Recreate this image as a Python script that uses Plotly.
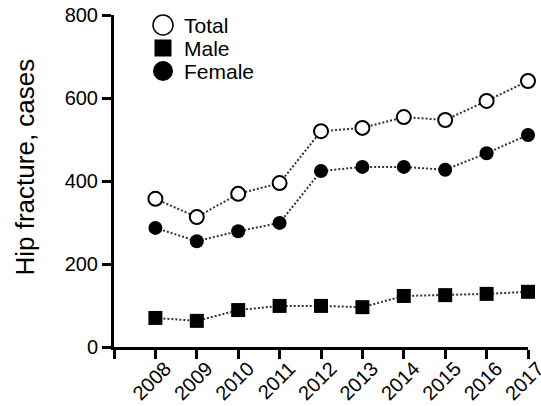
import plotly.graph_objects as go

years = [2008, 2009, 2010, 2011, 2012, 2013, 2014, 2015, 2016, 2017]
total = [357, 313, 369, 395, 520, 528, 554, 547, 593, 641]
male = [70, 63, 89, 99, 99, 96, 123, 125, 128, 133]
female = [287, 255, 279, 299, 424, 434, 434, 427, 467, 511]

series_names = ["Total", "Male", "Female"]
y_title = "Hip fracture, cases"

x_tickvals = [2007] + years
x_ticktext = [""] + [str(y) for y in years]
y_tickvals = [0, 200, 400, 600, 800]

FONT = "Arial, Liberation Sans, Helvetica, sans-serif"
line_style = dict(color="#333333", width=2, dash="2px,2px")

W, H = 541, 406
PL, PT = 114, 15
PW, PH = 414, 332

fig = go.Figure()
fig.add_trace(go.Scatter(
    x=years, y=total, name=series_names[0], mode="lines+markers",
    line=line_style,
    marker=dict(symbol="circle", size=14, color="white",
                line=dict(color="black", width=2)),
    cliponaxis=False,
))
fig.add_trace(go.Scatter(
    x=years, y=male, name=series_names[1], mode="lines+markers",
    line=line_style,
    marker=dict(symbol="square", size=14, color="black",
                line=dict(color="black", width=0)),
    cliponaxis=False,
))
fig.add_trace(go.Scatter(
    x=years, y=female, name=series_names[2], mode="lines+markers",
    line=line_style,
    marker=dict(symbol="circle", size=14, color="black",
                line=dict(color="black", width=0)),
    cliponaxis=False,
))

# manual legend (swatches as layout shapes, labels as annotations)
leg_x = (163 - PL) / PW
leg_tx = (182 - PL) / PW
leg_rows = [(347 - 25) / PH, (347 - 48) / PH, (347 - 71) / PH]
shapes = []
annotations = []
swatches = [("circle", "white", 10), ("rect", "black", 8.5), ("circle", "black", 10)]
for (kind, fill, r), yy, name in zip(swatches, leg_rows, series_names):
    shapes.append(dict(
        type=kind, xref="paper", yref="paper",
        xsizemode="pixel", ysizemode="pixel",
        xanchor=leg_x, yanchor=yy,
        x0=-r, x1=r, y0=-r, y1=r,
        fillcolor=fill, line=dict(color="black", width=1.5 if fill == "white" else 0),
    ))
    annotations.append(dict(
        xref="paper", yref="paper", x=leg_tx, y=yy,
        xanchor="left", yanchor="middle", text=name, showarrow=False,
        font=dict(size=21, family=FONT, color="black"),
    ))

# y-axis title as rotated annotation (sits slightly above the axis centre in the reference)
annotations.append(dict(
    xref="paper", yref="paper", x=(24 - PL) / PW, y=(347 - 167.5) / PH,
    xanchor="center", yanchor="middle", text=y_title, textangle=-90,
    showarrow=False, font=dict(size=26, family=FONT, color="black"),
))

fig.update_layout(
    width=W, height=H,
    margin=dict(l=PL, r=W - PL - PW, t=PT, b=H - PT - PH, autoexpand=False),
    paper_bgcolor="white", plot_bgcolor="white",
    font=dict(family=FONT, color="black", size=20),
    showlegend=False,
    shapes=shapes,
    annotations=annotations,
    xaxis=dict(
        range=[2007, 2017], tickvals=x_tickvals, ticktext=x_ticktext,
        tickangle=-45, showgrid=False, zeroline=False,
        showline=True, linecolor="black", linewidth=3,
        ticks="outside", ticklen=9, tickwidth=3, tickcolor="black",
        tickfont=dict(size=20), automargin=False,
        ticklabelstandoff=-10, ticklabelshift=10,
        ticklabeloverflow="allow",
    ),
    yaxis=dict(
        range=[0, 800], tickvals=y_tickvals,
        showgrid=False, zeroline=False,
        showline=True, linecolor="black", linewidth=3,
        ticks="outside", ticklen=9, tickwidth=3, tickcolor="black",
        tickfont=dict(size=20), automargin=False,
        ticklabeloverflow="allow",
    ),
)

fig.write_html("out.html", config={"displayModeBar": False},
               post_script="document.body.style.margin='0px';")
